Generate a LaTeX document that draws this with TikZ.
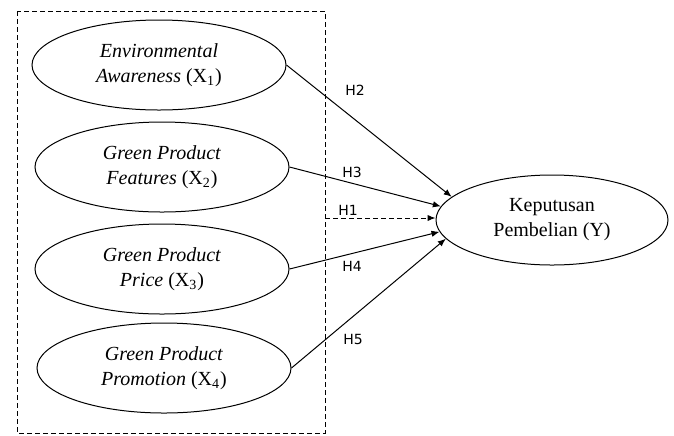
\documentclass[tikz,border=0pt]{standalone}
\usepackage{fontspec}
\setmainfont{Liberation Serif}
\newfontfamily\hfont{DejaVu Sans}
\usepackage{tikz}
\usetikzlibrary{arrows.meta,positioning,shapes.geometric}

\begin{document}
\begin{tikzpicture}[
  x=0.5pt,y=-0.5pt,
  var/.style={draw, ellipse, line width=0.5pt, minimum width=127pt, minimum height=45pt, align=center, inner sep=0pt, font=\fontsize{10}{12.5}\selectfont},
  arr/.style={-{Latex[length=4pt,width=3.2pt]}, line width=0.5pt},
  hyp/.style={font=\hfont\fontsize{7}{8}\selectfont, inner sep=0pt},
  boxline/.style={line width=0.5pt, dash pattern=on 2.5pt off 1.5pt}
]
\useasboundingbox (0,0) rectangle (674,435);
\draw[boxline] (17,11) rectangle (325,433);
\node[var] (aware) at (159,65) {\textit{Environmental}\\\textit{Awareness} (X\textsubscript{1})};
\node[var] (feat) at (162,167) {\textit{Green Product}\\\textit{Features} (X\textsubscript{2})};
\node[var] (price) at (162,269) {\textit{Green Product}\\\textit{Price} (X\textsubscript{3})};
\node[var] (promo) at (164,368) {\textit{Green Product}\\\textit{Promotion} (X\textsubscript{4})};
\node[var, minimum width=116pt] (kep) at (552,220) {Keputusan\\Pembelian (Y)};
\coordinate (boxedge) at (325,218);
\node[hyp] (h2) at (355,90) {H2};
\node[hyp] (h3) at (352,172) {H3};
\node[hyp] (h1) at (348,210) {H1};
\node[hyp] (h4) at (352,266) {H4};
\node[hyp] (h5) at (353,339) {H5};
\draw[arr] (aware.east) -- (kep.167); \draw[arr] (feat.east) -- (kep.173); \draw[arr, dash pattern=on 2.5pt off 1.5pt] (boxedge) -- (boxedge -| kep.west); \draw[arr] (price.east) -- (kep.186); \draw[arr] (promo.east) -- (kep.190);
\end{tikzpicture}
\end{document}
